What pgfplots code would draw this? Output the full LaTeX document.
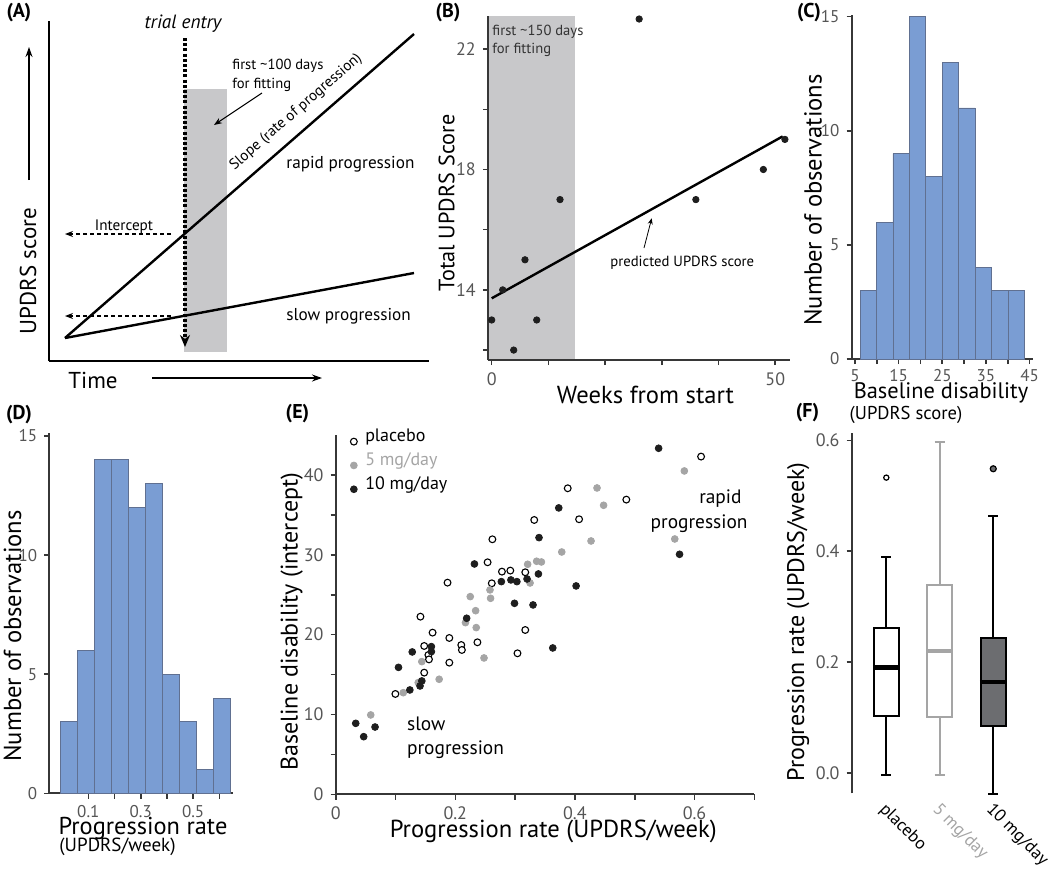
\documentclass[border=0pt]{standalone}
\usepackage{fontspec}
\setmainfont{PT Sans}
\usepackage{pgfplots}
\pgfplotsset{compat=1.18}
\usetikzlibrary{arrows.meta}

\definecolor{barblue}{RGB}{122,157,211}
\definecolor{baredge}{RGB}{96,112,145}
\definecolor{rectgray}{RGB}{200,200,202}
\definecolor{axc}{RGB}{55,55,55}
\definecolor{tickc}{RGB}{85,85,85}
\definecolor{grayfive}{RGB}{165,165,165}
\definecolor{darkten}{RGB}{30,30,30}
\definecolor{boxfill}{RGB}{108,109,112}

\newcommand{\fz}[1]{\fontsize{#1}{#1}\selectfont}

\pgfplotsset{
  panel/.style={scale only axis, anchor=south west, clip=false,
    axis lines*=left, tick pos=left, tick align=outside,
    axis line style={axc, line width=0.9pt},
    tick style={axc, line width=0.8pt}, major tick length=2.6pt,
    tick label style={font=\fz{8.5}, text=tickc},
    /pgf/number format/assume math mode=true},
}

\begin{document}
\begin{tikzpicture}
\useasboundingbox (0,0) rectangle (525pt,-434.5pt);

% ---------- (A) schematic, axis units = pixels
\begin{axis}[panel, at={(24.5pt,-180.5pt)}, width=190pt, height=170pt,
  xmin=49, xmax=429, ymin=-361, ymax=-21, xtick=\empty, ytick=\empty,
  axis line style={black, line width=1pt}]
\addplot[fill=rectgray, draw=none] coordinates {(184,-89) (227,-89) (227,-352) (184,-352)} -- cycle;
\addplot[black, line width=1.2pt] coordinates {(65,-338) (414,-34)};
\addplot[black, line width=1.2pt] coordinates {(65,-338) (414,-273)};
\end{axis}

% ---------- (B) one patient
\begin{axis}[panel, at={(244pt,-180pt)}, width=151pt, height=172pt,
  xmin=-0.65, xmax=52.6, ymin=11.67, ymax=23.1, axis on top,
  xtick={0,10,20,30,40,50}, xticklabels={0,,,,,50},
  ytick={12,14,16,18,20,22}, yticklabels={,14,,18,,22},
  tick label style={font=\fz{9}}]
\addplot[fill=rectgray, draw=none] coordinates {(-0.65,11.67) (14.7,11.67) (14.7,23.1) (-0.65,23.1)} -- cycle;
\addplot[black, line width=1.2pt] coordinates {(0,13.72) (51.3,19.1)};
\addplot[only marks, mark=*, mark size=1.6pt, darkten] coordinates {
  (0,13) (1.94,14) (3.88,12) (5.87,15) (7.94,13) (12.05,17)
  (26,23) (36,17) (47.9,18) (51.7,19)};
\end{axis}

% ---------- (C) baseline histogram
\begin{axis}[panel, at={(425.85pt,-179.5pt)}, width=90.65pt, height=172pt,
  xmin=4.24, xmax=45.8, ymin=0, ymax=15.07,
  xtick={5,10,15,20,25,30,35,40,45}, xticklabels={5,,15,,25,,35,,45},
  xticklabel style={yshift=1pt},
  ytick={0,5,10,15}]
\addplot[ybar, bar width=3.77, fill=barblue, draw=baredge, line width=0.4pt] coordinates {
  (8.035,3) (11.805,6) (15.575,9) (19.345,15) (23.115,8)
  (26.885,13) (30.655,11) (34.425,4) (38.195,3) (41.965,3)};
\end{axis}

% ---------- (D) progression histogram
\begin{axis}[panel, at={(24.65pt,-396.65pt)}, width=91.85pt, height=180pt,
  xmin=-0.0489, xmax=0.652, ymin=0, ymax=15.11,
  xtick={0.1,0.2,0.3,0.4,0.5,0.6}, xticklabels={0.1,,0.3,,0.5,},
  ytick={0,5,10,15}]
\addplot[ybar, bar width=0.0649, fill=barblue, draw=baredge, line width=0.4pt] coordinates {
  (0.0245,3) (0.0894,6) (0.1543,14) (0.2192,14) (0.2841,12)
  (0.3490,13) (0.4139,5) (0.4788,3) (0.5437,1) (0.6086,4)};
\end{axis}

% ---------- (E) scatter
\begin{axis}[panel, at={(167.85pt,-397.15pt)}, width=209.3pt, height=179.65pt,
  xmin=0, xmax=0.7, ymin=0, ymax=45,
  xtick={0,0.1,0.2,0.3,0.4,0.5,0.6,0.7}, xticklabels={0,,0.2,,0.4,,0.6,},
  ytick={0,5,10,15,20,25,30,35,40}, yticklabels={0,,10,,20,,30,,40},
  tick label style={font=\fz{9}},
  legend cell align=left,
  legend image code/.code={\draw[#1] plot coordinates {(0pt,0pt)};},
  legend style={draw=none, fill=none, at={(axis cs:0.024,46.0)}, anchor=north west,
    font=\fz{9}, row sep=2.4pt, column sep=3.2pt, inner sep=0pt,
    nodes={inner sep=0.8pt, anchor=base west}}]
\addplot[only marks, mark=*, mark size=1.7pt, mark options={draw=black, fill=white, line width=0.55pt}] coordinates {
  (0.0998,12.57) (0.1417,22.25) (0.148,18.58) (0.148,15.24) (0.155,17.45) (0.156,16.9)
  (0.162,20.25) (0.187,26.51) (0.190,19.58) (0.190,16.49) (0.210,18.7) (0.211,18.08)
  (0.237,19.04) (0.254,29.06) (0.261,26.43) (0.262,31.94) (0.278,27.89) (0.292,28.02)
  (0.304,17.66) (0.317,27.81) (0.317,20.58) (0.332,34.36) (0.388,38.33) (0.407,34.45)
  (0.486,36.91) (0.611,42.3)};
\addlegendentry{placebo}
\addplot[only marks, mark=*, mark size=1.7pt, mark options={draw=grayfive, fill=grayfive}] coordinates {
  (0.0586,9.94) (0.113,12.73) (0.144,16.62) (0.138,13.99) (0.173,14.41) (0.217,21.5)
  (0.225,24.76) (0.234,23.0) (0.235,20.88) (0.248,17.08) (0.258,25.6) (0.259,24.55)
  (0.321,28.81) (0.325,26.47) (0.336,29.19) (0.344,29.1) (0.378,30.35) (0.427,31.73)
  (0.437,38.37) (0.448,36.2) (0.567,31.98) (0.583,40.5)};
\addlegendentry{\textcolor{grayfive}{5 mg/day}}
\addplot[only marks, mark=*, mark size=1.7pt, mark options={draw=darkten, fill=darkten}] coordinates {
  (0.0335,8.89) (0.0468,7.22) (0.0658,8.43) (0.105,15.9) (0.124,13.07) (0.128,17.83)
  (0.141,13.57) (0.144,14.2) (0.160,18.5) (0.160,17.87) (0.219,22.05) (0.232,28.85)
  (0.277,26.64) (0.293,26.85) (0.303,26.64) (0.299,23.92) (0.320,26.97) (0.330,23.72)
  (0.339,27.6) (0.340,32.15) (0.363,18.33) (0.373,35.87) (0.402,26.1) (0.540,43.34)
  (0.575,30.06)};
\addlegendentry{10 mg/day}
\end{axis}

% ---------- (F) boxplots (prepared summaries drawn as boxes, whiskers, medians)
\begin{axis}[panel, at={(425.85pt,-396.65pt)}, width=84.15pt, height=180pt,
  xmin=0.353, xmax=3.5, ymin=-0.037, ymax=0.613,
  x axis line style={draw=none}, xtick style={draw=none},
  xtick={1,2,3}, xticklabels={placebo,\textcolor{grayfive}{5 mg/day},10 mg/day},
  x tick label style={rotate=-45, anchor=north west, font=\fz{8.7}, text=black, xshift=-2pt, yshift=3pt},
  ytick={0,0.2,0.4,0.6}, tick label style={font=\fz{9}},
  yticklabel style={/pgf/number format/.cd, fixed, fixed zerofill, precision=1}]
% placebo
\addplot[black, line width=1pt] coordinates {(1,0.261) (1,0.39)};
\addplot[black, line width=1pt] coordinates {(0.905,0.39) (1.095,0.39)};
\addplot[black, line width=1pt] coordinates {(1,0.102) (1,-0.004)};
\addplot[black, line width=1pt] coordinates {(0.905,-0.004) (1.095,-0.004)};
\addplot[black, line width=1pt, fill=white] coordinates {(0.77,0.102) (1.23,0.102) (1.23,0.261) (0.77,0.261)} -- cycle;
\addplot[black, line width=2.2pt] coordinates {(0.75,0.19) (1.25,0.19)};
\addplot[only marks, mark=*, mark size=1.3pt, mark options={draw=black, fill=white, line width=0.6pt}] coordinates {(1,0.533)};
% 5 mg/day
\addplot[grayfive, line width=1pt] coordinates {(2,0.339) (2,0.598)};
\addplot[grayfive, line width=1pt] coordinates {(1.905,0.598) (2.095,0.598)};
\addplot[grayfive, line width=1pt] coordinates {(2,0.101) (2,-0.004)};
\addplot[grayfive, line width=1pt] coordinates {(1.905,-0.004) (2.095,-0.004)};
\addplot[grayfive, line width=1pt, fill=white] coordinates {(1.77,0.101) (2.23,0.101) (2.23,0.339) (1.77,0.339)} -- cycle;
\addplot[grayfive, line width=2.2pt] coordinates {(1.75,0.220) (2.25,0.220)};
% 10 mg/day
\addplot[black, line width=1pt] coordinates {(3,0.244) (3,0.464)};
\addplot[black, line width=1pt] coordinates {(2.905,0.464) (3.095,0.464)};
\addplot[black, line width=1pt] coordinates {(3,0.084) (3,-0.038)};
\addplot[black, line width=1pt] coordinates {(2.905,-0.038) (3.095,-0.038)};
\addplot[black, line width=1pt, fill=boxfill] coordinates {(2.77,0.084) (3.23,0.084) (3.23,0.244) (2.77,0.244)} -- cycle;
\addplot[black, line width=2.2pt] coordinates {(2.75,0.164) (3.25,0.164)};
\addplot[only marks, mark=*, mark size=1.5pt, mark options={draw=black, fill=boxfill, line width=0.6pt}] coordinates {(3,0.549)};
\end{axis}

% ---------- annotations, in pixel units of the reference
\begin{scope}[x=0.5pt, y=-0.5pt]
% panel letters
\foreach \t/\xx/\yy in {A/19/13, B/448/12.5, C/809/13, D/19/415, E/297.5/414, F/807.5/413}
  \node[font=\bfseries\fz{10}] at (\xx,\yy) {(\t)};

% (A)
\draw[line width=1.6pt, dash pattern=on 1.5pt off 1.1pt, -{Stealth[length=6pt,width=5pt]}] (185,38) -- (185,347);
\draw[line width=0.6pt, dash pattern=on 2pt off 1.5pt, -{Stealth[length=4pt,width=3pt]}] (171,234) -- (65,234);
\draw[line width=0.6pt, dash pattern=on 2pt off 1.5pt, -{Stealth[length=4pt,width=3pt]}] (171,316) -- (65,316);
\draw[line width=0.5pt, -{Stealth[length=4pt,width=3pt]}] (262,93) -- (214,125);
\draw[line width=0.7pt, -{Stealth[length=5pt,width=3.5pt]}] (29,180) -- (29,47);
\draw[line width=0.7pt, -{Stealth[length=5pt,width=3.5pt]}] (152,378) -- (322,378);
\node[font=\itshape\fz{9.6}, anchor=base, inner sep=0pt] at (183,28.3) {trial entry};
\node[font=\fz{7.3}, anchor=base west, inner sep=0pt] at (232,69.3) {first \textasciitilde100 days};
\node[font=\fz{7.3}, anchor=base west, inner sep=0pt] at (232,88.3) {for fitting};
\node[font=\fz{7.5}, rotate=41, inner sep=0pt] at (296,112) {Slope (rate of progression)};
\node[font=\fz{8.6}, anchor=base west, inner sep=0pt] at (286,168) {rapid progression};
\node[font=\fz{8.6}, anchor=base west, inner sep=0pt] at (286,320) {slow progression};
\node[font=\fz{7.6}, anchor=base, inner sep=0pt] at (124,230) {Intercept};
\node[font=\fz{11.5}, rotate=90] at (28,271) {UPDRS score};
\node[font=\fz{11.5}, anchor=base, inner sep=0pt] at (93,388) {Time};

% (B)
\node[font=\fz{7.3}, text=black!80, anchor=base west, inner sep=0pt] at (492,35) {first \textasciitilde150 days};
\node[font=\fz{7.3}, text=black!80, anchor=base west, inner sep=0pt] at (492,53.3) {for fitting};
\node[font=\fz{7.35}, anchor=base west, inner sep=0pt] at (610,266.7) {predicted UPDRS score};
\draw[line width=0.4pt, -{Stealth[length=3pt,width=2.5pt]}] (644,248) -- (651.7,218.3);
\node[font=\fz{11.1}, rotate=90] at (446.7,203) {Total UPDRS Score};
\node[font=\fz{12.3}, anchor=base, inner sep=0pt] at (645.5,403.3) {Weeks from start};

% (C)
\node[font=\fz{12.3}, rotate=90] at (813,200) {Number of observations};
\node[font=\fz{11.2}, anchor=base, inner sep=0pt] at (941,398.5) {Baseline disability};
\node[font=\fz{9.3}, anchor=base, inner sep=0pt] at (906,419) {(UPDRS score)};

% (D)
\node[font=\fz{12.3}, rotate=90] at (12.5,636) {Number of observations};
\node[font=\fz{12.2}, anchor=base, inner sep=0pt] at (143,834) {Progression rate};
\node[font=\fz{9.5}, anchor=base, inner sep=0pt] at (117.5,851) {(UPDRS/week)};

% (E)
\node[font=\fz{9.7}, anchor=base west, inner sep=0pt] at (406.7,730) {slow};
\node[font=\fz{9.7}, anchor=base west, inner sep=0pt] at (406.7,754.3) {progression};
\node[font=\fz{9.7}, anchor=base east, inner sep=0pt] at (742,503) {rapid};
\node[font=\fz{9.7}, anchor=base east, inner sep=0pt] at (748,528.3) {progression};
\node[font=\fz{12}, rotate=90] at (291.7,621.7) {Baseline disability (intercept)};
\node[font=\fz{12.3}, anchor=base, inner sep=0pt] at (553.3,837) {Progression rate (UPDRS/week)};

% (F)
\node[font=\fz{12}, rotate=90] at (798.3,622) {Progression rate (UPDRS/week)};
\end{scope}
\end{tikzpicture}
\end{document}
